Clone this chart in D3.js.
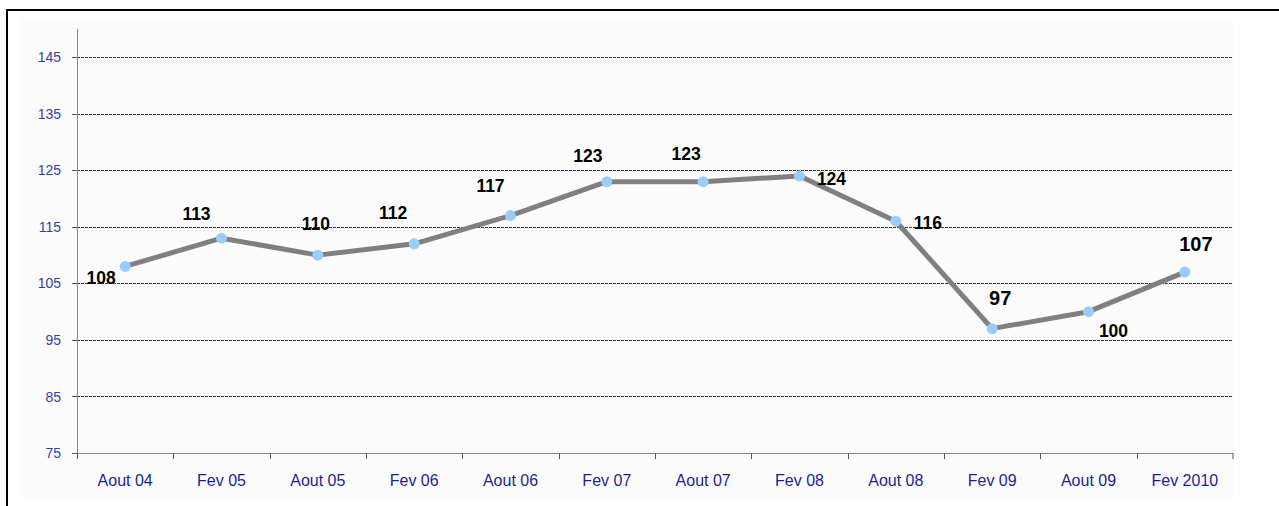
<!DOCTYPE html>
<meta charset="utf-8">
<style>
    body { margin: 0; background: #fff; }
    svg { display: block; }
</style>
<svg id="chart" width="1279" height="506" font-family="Liberation Sans, Arial, sans-serif"></svg>
<script src="https://cdn.jsdelivr.net/npm/d3@7"></script>
<script>

    var categories = ["Aout 04", "Fev 05", "Aout 05", "Fev 06", "Aout 06", "Fev 07",
        "Aout 07", "Fev 08", "Aout 08", "Fev 09", "Aout 09", "Fev 2010"];
    var values = [108, 113, 110, 112, 117, 123, 123, 124, 116, 97, 100, 107];
    var yTicks = [75, 85, 95, 105, 115, 125, 135, 145];

    // where each value label sits relative to its point (dx, dy to baseline, font size)
    var labelOffsets = [
        [-24, 18, 17.5], [-25, -18, 17.5], [-2, -25, 17.5], [-21, -25, 17.5],
        [-20, -24, 17.5], [-19, -20, 17.5], [-17, -22, 17.5], [32, 9, 17.5],
        [32, 8, 17.5], [8, -24, 20], [25, 25, 17.5], [11, -21, 20]
    ];

    var svg = d3.select("#chart"),
        plotL = 77, plotR = 1233, plotT = 29, plotB = 453;

    var x = d3.scaleBand()
        .domain(categories)
        .range([plotL, plotR]);

    var y = d3.scaleLinear()
        .domain([75, 150])
        .range([plotB, plotT]);

    // faint plot background
    svg.append("rect")
        .attr("x", 22).attr("y", 18)
        .attr("width", plotR - 22).attr("height", 482)
        .attr("fill", "#fcfcfc");

    // frame (top and left edges only are visible)
    svg.append("path")
        .attr("d", "M7,506V10H1279")
        .attr("fill", "none")
        .attr("stroke", "#000")
        .attr("stroke-width", 2);

    // dashed grid lines
    svg.append("g")
        .selectAll("line")
        .data(yTicks.slice(1))
        .enter().append("line")
        .attr("x1", plotL).attr("x2", plotR)
        .attr("y1", function (d) { return Math.round(y(d)) + 0.5; })
        .attr("y2", function (d) { return Math.round(y(d)) + 0.5; })
        .attr("stroke", "#3a3a3a")
        .attr("stroke-dasharray", "3,1");

    // y axis
    var yAxis = svg.append("g");
    yAxis.append("line")
        .attr("x1", plotL + 0.5).attr("x2", plotL + 0.5)
        .attr("y1", plotT).attr("y2", plotB)
        .attr("stroke", "#888");
    yAxis.selectAll("line.tick")
        .data(yTicks)
        .enter().append("line")
        .attr("class", "tick")
        .attr("x1", plotL - 5).attr("x2", plotL)
        .attr("y1", function (d) { return Math.round(y(d)) + 0.5; })
        .attr("y2", function (d) { return Math.round(y(d)) + 0.5; })
        .attr("stroke", "#555");
    yAxis.selectAll("text")
        .data(yTicks)
        .enter().append("text")
        .attr("x", 61)
        .attr("y", function (d) { return y(d); })
        .attr("dy", "0.36em")
        .attr("text-anchor", "end")
        .attr("font-size", 14)
        .attr("fill", "#3b3ba8")
        .text(function (d) { return d; });

    // x axis
    var xAxis = svg.append("g");
    xAxis.append("line")
        .attr("x1", plotL).attr("x2", plotR)
        .attr("y1", plotB + 0.5).attr("y2", plotB + 0.5)
        .attr("stroke", "#888");
    xAxis.selectAll("line.tick")
        .data(categories.concat([null]))
        .enter().append("line")
        .attr("class", "tick")
        .attr("x1", function (d) { return d === null ? plotR : Math.round(x(d)) + 0.5; })
        .attr("x2", function (d) { return d === null ? plotR : Math.round(x(d)) + 0.5; })
        .attr("y1", plotB).attr("y2", plotB + 6)
        .attr("stroke", "#555");
    xAxis.selectAll("text")
        .data(categories)
        .enter().append("text")
        .attr("x", function (d) { return x(d) + x.bandwidth() / 2; })
        .attr("y", 486)
        .attr("text-anchor", "middle")
        .attr("font-size", 16)
        .attr("fill", "#1f1f8c")
        .text(function (d) { return d; });

    // the series
    var pts = categories.map(function (c, i) {
        return { cat: c, v: values[i], off: labelOffsets[i] };
    });

    var line = d3.line()
        .x(function (d) { return x(d.cat) + x.bandwidth() / 2; })
        .y(function (d) { return y(d.v); });

    svg.append("path")
        .datum(pts)
        .attr("d", line)
        .attr("fill", "none")
        .attr("stroke", "#808080")
        .attr("stroke-width", 5)
        .attr("stroke-linejoin", "round");

    svg.append("g")
        .selectAll("circle")
        .data(pts)
        .enter().append("circle")
        .attr("cx", function (d) { return x(d.cat) + x.bandwidth() / 2; })
        .attr("cy", function (d) { return y(d.v); })
        .attr("r", 5.5)
        .attr("fill", "#99ccff");

    svg.append("g")
        .selectAll("text")
        .data(pts)
        .enter().append("text")
        .attr("x", function (d) { return x(d.cat) + x.bandwidth() / 2 + d.off[0]; })
        .attr("y", function (d) { return y(d.v) + d.off[1]; })
        .attr("text-anchor", "middle")
        .attr("font-weight", "bold")
        .attr("font-size", function (d) { return d.off[2]; })
        .attr("fill", "#000")
        .text(function (d) { return d.v; });

</script>
